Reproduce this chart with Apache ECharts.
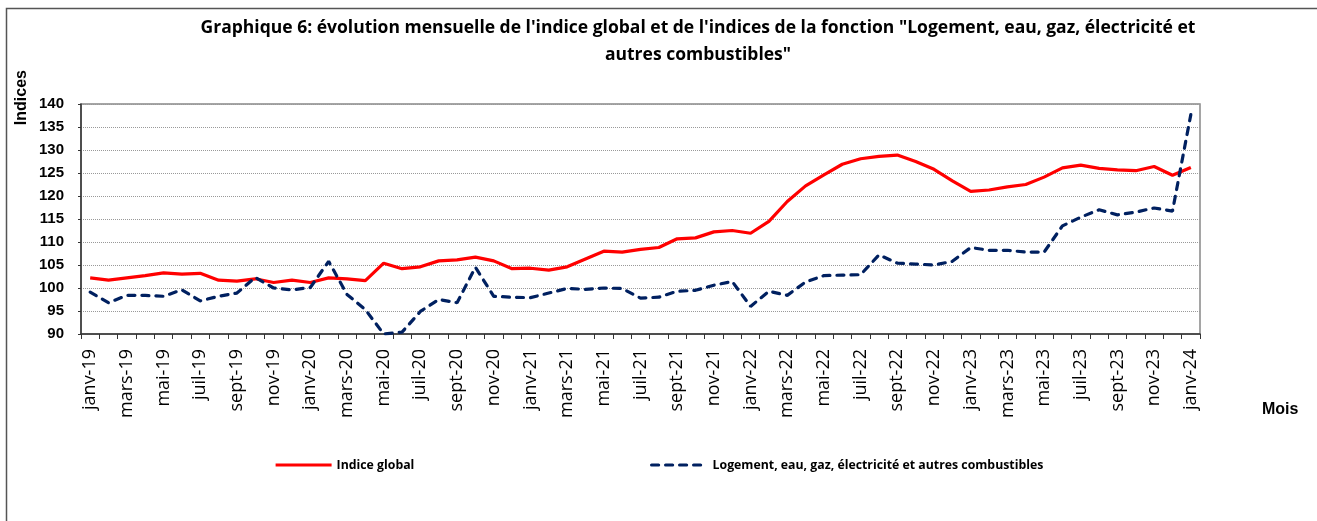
<!DOCTYPE html>
<html>
<head>
<meta charset="utf-8">
<script src="https://cdn.jsdelivr.net/npm/echarts@6/dist/echarts.min.js"></script>
<style>
html, body { margin: 0; padding: 0; background: #fff; }
#chart { width: 1317px; height: 521px; }
</style>
</head>
<body>
<div id="chart"></div>
<script>
// mois de janv-19 à janv-24
var moisNoms = ['janv', 'févr', 'mars', 'avr', 'mai', 'juin', 'juil', 'août', 'sept', 'oct', 'nov', 'déc'];
var annees = ['19', '20', '21', '22', '23', '24'];

var indiceGlobal = [
    102.2, 101.7, 102.2, 102.7, 103.3, 103.0, 103.2, 101.7, 101.5, 102.0,
    101.2, 101.7, 101.2, 102.2, 102.0, 101.6, 105.4, 104.2, 104.6, 105.9,
    106.1, 106.7, 105.9, 104.2, 104.3, 103.9, 104.6, 106.3, 108.0, 107.8,
    108.4, 108.8, 110.7, 110.9, 112.2, 112.5, 111.9, 114.5, 118.8, 122.2,
    124.6, 126.9, 128.1, 128.6, 128.9, 127.5, 125.8, 123.3, 121.0, 121.3,
    122.0, 122.5, 124.1, 126.1, 126.7, 126.0, 125.7, 125.5, 126.4, 124.5,
    126.2
];

var logement = [
    99.1, 96.8, 98.4, 98.4, 98.2, 99.6, 97.2, 98.2, 98.9, 102.3,
    100.0, 99.6, 100.1, 105.8, 98.6, 95.3, 90.0, 90.4, 94.9, 97.5,
    96.8, 104.5, 98.2, 98.0, 97.9, 98.9, 99.9, 99.7, 100.0, 99.9,
    97.8, 98.0, 99.3, 99.5, 100.6, 101.4, 96.0, 99.3, 98.4, 101.3,
    102.7, 102.8, 102.9, 107.2, 105.4, 105.2, 105.0, 105.8, 108.8, 108.2,
    108.2, 107.8, 107.8, 113.5, 115.4, 117.0, 115.9, 116.5, 117.4, 116.7,
    137.7
];

var mois = [];
for (var a = 0; a < annees.length; a++) {
    for (var m = 0; m < 12; m++) {
        if (mois.length < indiceGlobal.length) {
            mois.push(moisNoms[m] + '-' + annees[a]);
        }
    }
}

var nomGlobal = 'Indice global';
var nomLogement = 'Logement, eau, gaz, électricité et autres combustibles';

var chart = echarts.init(document.getElementById('chart'));

var legendeTexte = { fontFamily: 'Open Sans', fontSize: 12.3, fontWeight: 'bold', color: '#000' };

var option = {
    animation: false,
    backgroundColor: '#fff',
    title: {
        text: 'Graphique 6: évolution mensuelle de l\'indice global et de l\'indices de la fonction "Logement, eau, gaz, électricité et\nautres combustibles"',
        left: 698,
        top: 15,
        padding: 0,
        textAlign: 'center',
        textStyle: {
            fontFamily: 'Open Sans',
            fontSize: 17.5,
            fontWeight: 'bold',
            color: '#000',
            lineHeight: 27
        }
    },
    legend: [
        {
            data: [nomGlobal],
            left: 274,
            top: 459,
            padding: 0,
            itemWidth: 56,
            itemHeight: 14,
            itemGap: 0,
            itemStyle: { opacity: 0 },
            lineStyle: { width: 3.2 },
            textStyle: legendeTexte
        },
        {
            data: [nomLogement],
            left: 650,
            top: 459,
            padding: 0,
            itemWidth: 56,
            itemHeight: 14,
            itemGap: 0,
            itemStyle: { opacity: 0 },
            lineStyle: { width: 3.2 },
            textStyle: legendeTexte
        }
    ],
    grid: {
        left: 81,
        right: 117,
        top: 104,
        bottom: 187,
        show: true,
        borderColor: '#888',
        borderWidth: 1.5,
        containLabel: false
    },
    xAxis: {
        type: 'category',
        data: mois,
        boundaryGap: true,
        axisLine: { lineStyle: { color: '#333', width: 1.5 } },
        axisTick: { show: true, interval: 0, length: 5, lineStyle: { color: '#333' } },
        axisLabel: {
            interval: 1,
            rotate: 90,
            margin: 15,
            fontFamily: 'Open Sans',
            fontSize: 18,
            color: '#000'
        }
    },
    yAxis: {
        type: 'value',
        min: 90,
        max: 140,
        interval: 5,
        axisLine: { show: true, lineStyle: { color: '#333', width: 1.5 } },
        axisTick: { show: true, length: 3, lineStyle: { color: '#333' } },
        axisLabel: {
            margin: 17,
            fontFamily: 'Liberation Sans',
            fontSize: 15,
            fontWeight: 'bold',
            color: '#000'
        },
        splitLine: { lineStyle: { color: '#999', type: 'dotted', width: 1 } }
    },
    graphic: [
        {
            type: 'rect',
            left: 4,
            top: 6,
            shape: { width: 1400, height: 600 },
            style: { fill: 'none', stroke: '#555', lineWidth: 1.5 },
            silent: true
        },
        {
            type: 'text',
            left: 14,
            top: 70,
            rotation: Math.PI / 2,
            style: { text: 'Indices', fontFamily: 'Liberation Sans', fontSize: 16, fontWeight: 'bold', fill: '#000' }
        },
        {
            type: 'text',
            left: 1262,
            top: 402,
            style: { text: 'Mois', fontFamily: 'Liberation Sans', fontSize: 16, fontWeight: 'bold', fill: '#000' }
        }
    ],
    series: [
        {
            name: nomGlobal,
            type: 'line',
            data: indiceGlobal,
            symbol: 'none',
            lineStyle: { color: '#ff0000', width: 3.2 },
            itemStyle: { color: '#ff0000' }
        },
        {
            name: nomLogement,
            type: 'line',
            data: logement,
            symbol: 'none',
            lineStyle: { color: '#002060', width: 3.2, type: [7, 7], cap: 'round' },
            itemStyle: { color: '#002060' }
        }
    ]
};

chart.setOption(option);
</script>
</body>
</html>
